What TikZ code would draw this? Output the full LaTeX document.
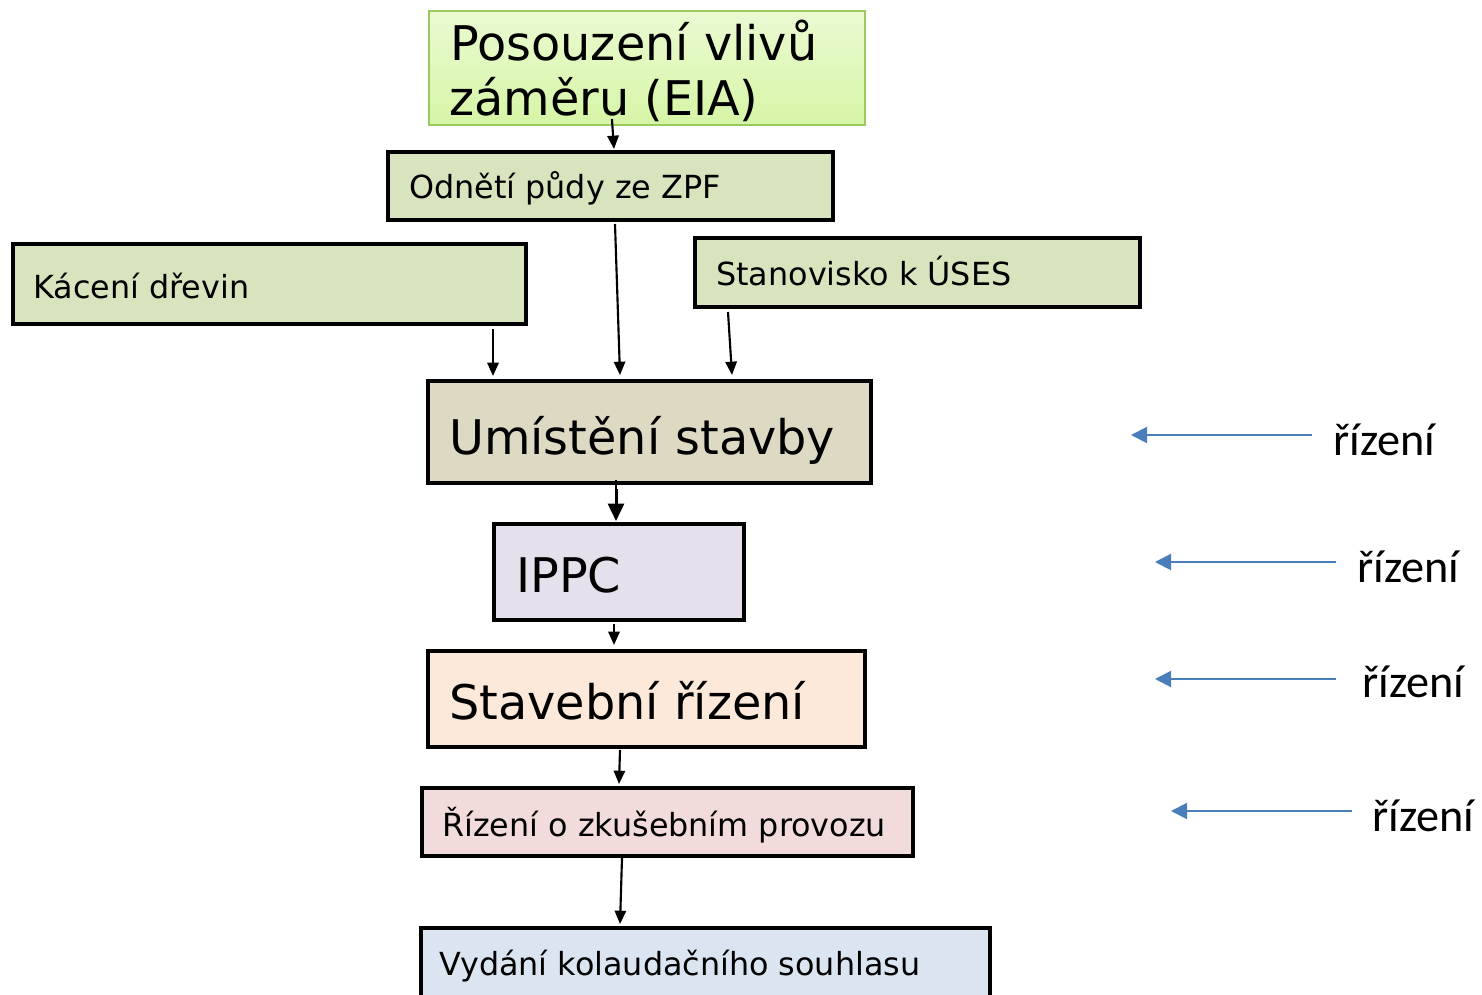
\documentclass[tikz,border=0pt]{standalone}
\usepackage{fontspec}
\setmainfont{DejaVu Sans}
\newfontfamily\calibfont{Carlito}
\usetikzlibrary{arrows.meta,fit}
\definecolor{gA}{HTML}{D7E4BD}
\definecolor{umiC}{HTML}{DDD9C3}
\definecolor{ippcC}{HTML}{E5E0EC}
\definecolor{stavC}{HTML}{FDE9D9}
\definecolor{rizC}{HTML}{F2DCDB}
\definecolor{vydC}{HTML}{DBE5F1}
\definecolor{eiaTop}{HTML}{EAFAD2}
\definecolor{eiaBot}{HTML}{D6F5A6}
\definecolor{eiaLine}{HTML}{9BC95F}
\definecolor{blueA}{HTML}{4A7EBB}
\tikzset{
  boxb/.style={draw=black, line width=3pt, inner sep=0pt},
  bigtxt/.style={inner sep=0pt, anchor=base west, font=\fontsize{35.8}{40}\selectfont},
  smalltxt/.style={inner sep=0pt, anchor=base west, font=\fontsize{23.85}{28}\selectfont},
  rztxt/.style={inner sep=0pt, anchor=base west, font=\calibfont\fontsize{34.7}{40}\selectfont},
  blk/.style={draw=black, line width=1.6pt, -{Triangle[length=10pt,width=8.5pt]}},
  blu/.style={draw=blueA, line width=1.5pt, -{Triangle[length=12pt,width=12pt]}}
}
\begin{document}
\begin{tikzpicture}[x=0.75pt,y=-0.75pt]
\useasboundingbox (0,0) rectangle (1482,995);
\clip (0,0) rectangle (1482,995);
\fill[white] (0,0) rectangle (1482,995);

% boxes
\node[fit={(429,11) (865,125)}, inner sep=0pt, draw=eiaLine, line width=1.6pt, top color=eiaTop, bottom color=eiaBot] (eia) {};
\node[fit={(388,152) (833,220)}, boxb, fill=gA] (odn) {};
\node[fit={(13,244) (526,324)}, boxb, fill=gA] (kac) {};
\node[fit={(695,238) (1140,307)}, boxb, fill=gA] (sta) {};
\node[fit={(428,381) (871,483)}, boxb, fill=umiC] (umi) {};
\node[fit={(494,524) (744,620)}, boxb, fill=ippcC] (ippc) {};
\node[fit={(428,651) (865,747)}, boxb, fill=stavC] (stav) {};
\node[fit={(422,788) (913,856)}, boxb, fill=rizC] (riz) {};
\node[fit={(421,928) (990,1010)}, boxb, fill=vydC] (vyd) {};

% texts
\node[bigtxt] (eiaA) at (450,61) {Posouzení vlivů};
\node[bigtxt] (eiaB) at (449,116) {záměru (EIA)};
\node[smalltxt] (odnT) at (409,199) {Odnětí půdy ze ZPF};
\node[smalltxt] (kacT) at (33,298) {Kácení dřevin};
\node[smalltxt] (staT) at (716,286) {Stanovisko k ÚSES};
\node[bigtxt] (umiT) at (449,454) {Umístění stavby};
\node[bigtxt] (ippcT) at (516,592) {IPPC};
\node[bigtxt] (stavT) at (449,719) {Stavební řízení};
\node[smalltxt] (rizT) at (442,836) {Řízení o zkušebním provozu};
\node[smalltxt] (vydT) at (439,975) {Vydání kolaudačního souhlasu};

% black connectors
\draw[blk] ([shift={(184,-7)}]eia.south west) -- ([shift={(228,-1)}]odn.north west);
\draw[blk] ([shift={(229,2)}]odn.south west) -- ([shift={(194,-4)}]umi.north west);
\draw[blk] ([shift={(482,3)}]kac.south west) -- ([shift={(67,-3)}]umi.north west);
\draw[blk] ([shift={(35,3)}]sta.south west) -- ([shift={(306,-4)}]umi.north west);
\draw[blk, line width=2pt, -{Triangle[length=13pt,width=12pt]}] ([shift={(190,-5)}]umi.south west) -- ([shift={(124,-1)}]ippc.north west);
\draw[black, line width=2pt] ([shift={(191,4)}]umi.south west) -- ([shift={(125,-14)}]ippc.north west);
\draw[blk] ([shift={(122,2)}]ippc.south west) -- ([shift={(188,-4)}]stav.north west);
\draw[blk] ([shift={(194,1)}]stav.south west) -- ([shift={(199,-2)}]riz.north west);
\draw[blk] ([shift={(202,0)}]riz.south west) -- ([shift={(201,-2)}]vyd.north west);

% right side labels
\node[rztxt] (rz1) at (1333,455) {řízení};
\node[rztxt] (rz2) at (1357,582) {řízení};
\node[rztxt] (rz3) at (1362,697) {řízení};
\node[rztxt] (rz4) at (1372,831) {řízení};
\coordinate (e1) at (1131,435);
\coordinate (e2) at (1155,562);
\coordinate (e3) at (1155,679);
\coordinate (e4) at (1171,811);
\draw[blu] ([shift={(-21,-20)}]rz1.base west) -- (e1);
\draw[blu] ([shift={(-21,-20)}]rz2.base west) -- (e2);
\draw[blu] ([shift={(-26,-18)}]rz3.base west) -- (e3);
\draw[blu] ([shift={(-20,-20)}]rz4.base west) -- (e4);
\end{tikzpicture}
\end{document}
